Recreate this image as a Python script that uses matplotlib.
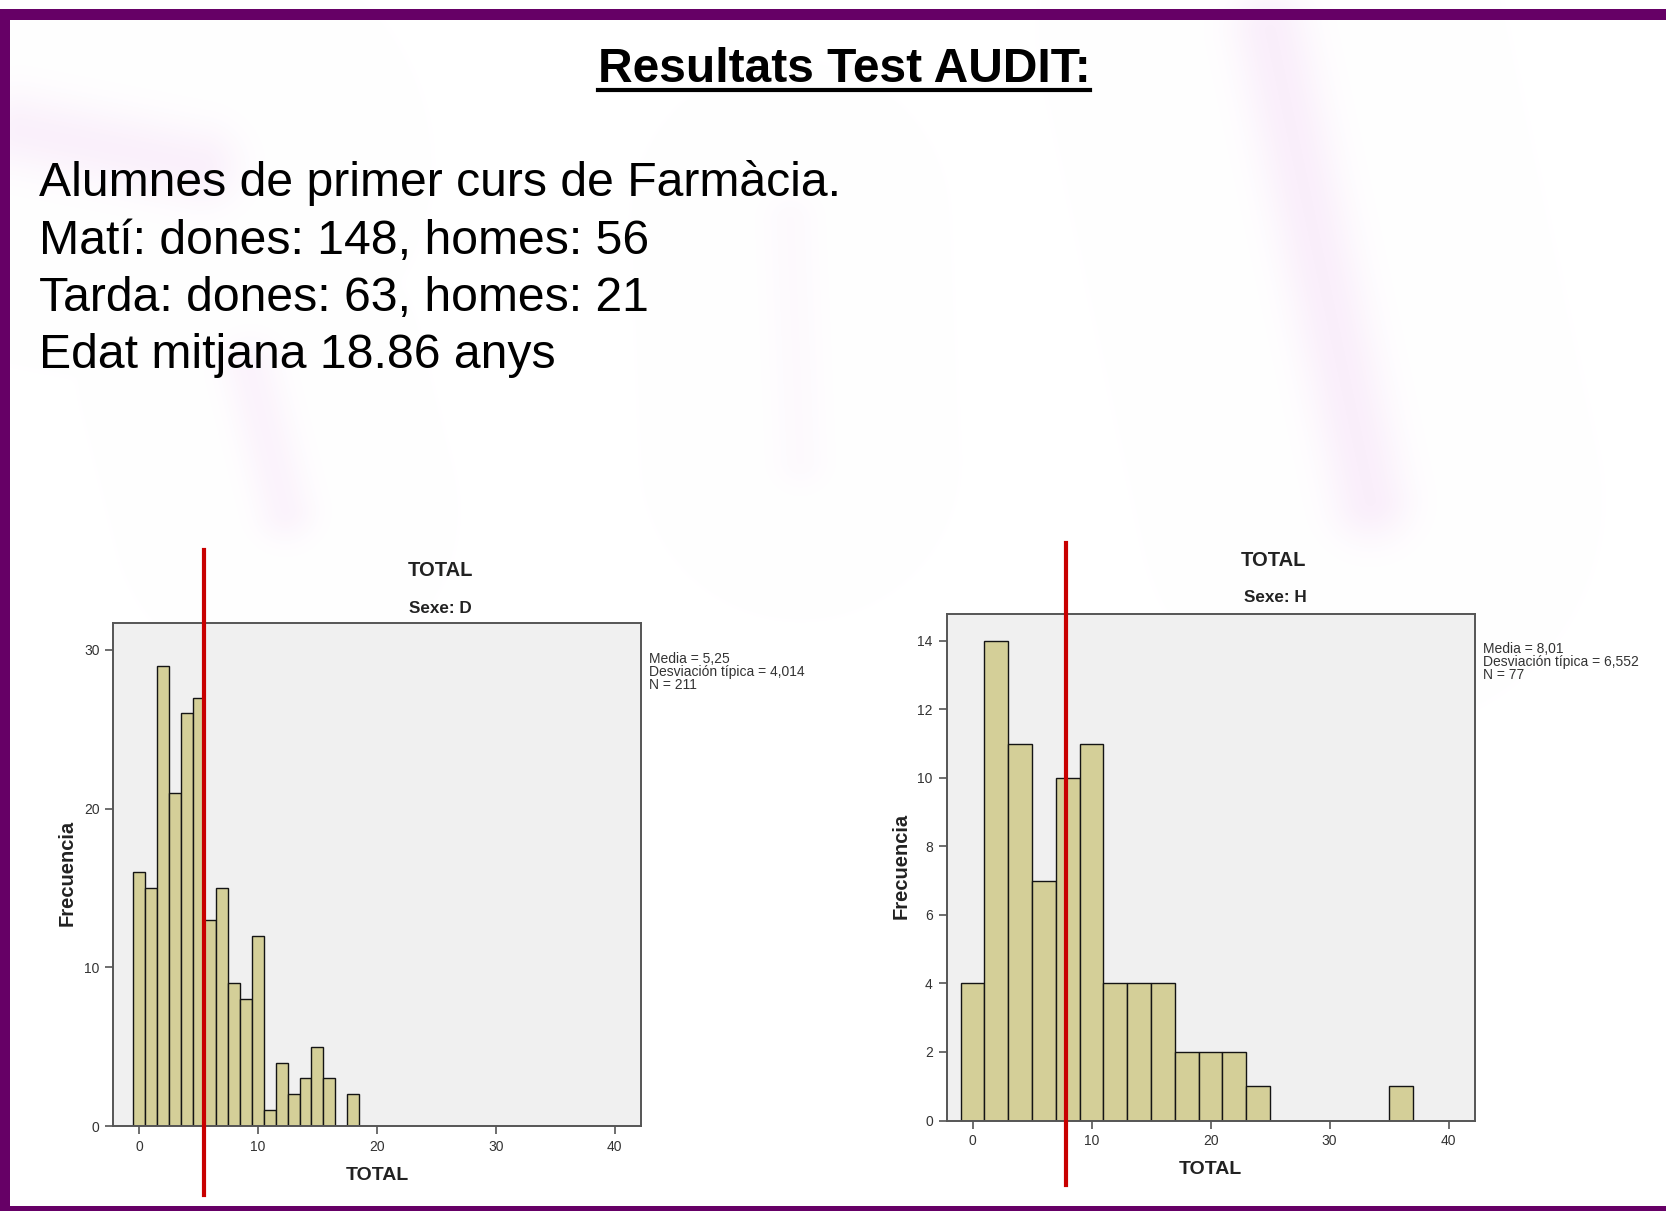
"""Diapositiva: resultats del test AUDIT (histogrames SPSS per sexe)."""

import numpy as np
import matplotlib
matplotlib.use("Agg")
import matplotlib.pyplot as plt
from matplotlib.lines import Line2D

# Dades llegides dels histogrames
total_d = list(range(0, 19))  # amplada de classe 1
freq_d = [16, 15, 29, 21, 26, 27, 13, 15, 9, 8, 12, 1, 4, 2, 3, 5, 3, 0, 2]
total_h = list(range(0, 38, 2))  # amplada de classe 2
freq_h = [4, 14, 11, 7, 10, 11, 4, 4, 4, 2, 2, 2, 1, 0, 0, 0, 0, 0, 1]

stats_d = ["Media = 5,25", "Desviación típica = 4,014", "N = 211"]
stats_h = ["Media = 8,01", "Desviación típica = 6,552", "N = 77"]

linia_d = 5.45  # línia vermella dibuixada a mà
linia_h = 7.85

titol = "Resultats Test AUDIT:"
linies = [
    "Alumnes de primer curs de Farmàcia.",
    "Matí: dones: 148, homes: 56",
    "Tarda: dones: 63, homes: 21",
    "Edat mitjana 18.86 anys",
]

W, H = 1666, 1211
PORPRA = "#660066"
BARRA = "#D4CF98"
FONT = ["Liberation Sans", "DejaVu Sans"]


def fx(px):
    return px / W


def fy(py):
    return 1 - py / H


fig = plt.figure(figsize=(W / 100, H / 100), dpi=100)

# fons amb taques roses suaus
yy, xx = np.mgrid[0:H, 0:W]


def taca(x0, y0, x1, y1, w, s):
    dx, dy = x1 - x0, y1 - y0
    px, py = xx - x0, yy - y0
    t = np.clip((px * dx + py * dy) / (dx * dx + dy * dy), 0, 1)
    d = np.hypot(px - t * dx, py - t * dy)
    return s * np.exp(-(d / w) ** 2)


fons = (taca(20, 130, 200, 165, 40, 0.7) + taca(250, 370, 285, 510, 30, 0.55)
        + taca(1270, 30, 1370, 500, 40, 0.8) + taca(790, 220, 800, 460, 28, 0.25))
fons = np.clip(fons, 0, 1)
img = 1 - fons[..., None] * np.array([0.025, 0.08, 0.02])
ax_bg = fig.add_axes([0, 0, 1, 1])
ax_bg.imshow(img, aspect="auto", extent=[0, 1, 0, 1], interpolation="nearest")
ax_bg.set_axis_off()

# marc porpra
fig.add_artist(plt.Rectangle((0, fy(20)), 1, fy(9) - fy(20), transform=fig.transFigure,
                             color=PORPRA, lw=0))
fig.add_artist(plt.Rectangle((0, 0), fx(10), fy(9), transform=fig.transFigure,
                             color=PORPRA, lw=0))
fig.add_artist(plt.Rectangle((0, 0), 1, fy(1206), transform=fig.transFigure,
                             color=PORPRA, lw=0))

# títol subratllat
t = fig.text(fx(844), fy(82), titol, ha="center", va="baseline", fontsize=34.5,
             fontweight="bold", family=FONT)
fig.canvas.draw()
bb = t.get_window_extent()
fig.add_artist(Line2D([bb.x0 / W, bb.x1 / W], [fy(89.5), fy(89.5)],
                      transform=fig.transFigure, color="black", lw=3))

# text de la diapositiva
for i, lin in enumerate(linies):
    fig.text(fx(39), fy(196.5 + i * 57.2), lin, ha="left", va="baseline",
             fontsize=34.7, family=FONT)


def panell(rect, x, freq, amplada, ylim, yticks, linia, ylin, stats, sexe, pos):
    ax = fig.add_axes(rect)
    ax.bar(x, freq, width=amplada, color=BARRA, edgecolor="#141414", lw=1.0, zorder=2)
    ax.set_facecolor("#F0F0F0")
    ax.set_xlim(-2.17, 42.2)
    ax.set_ylim(*ylim)
    ax.set_xticks([0, 10, 20, 30, 40])
    ax.set_yticks(yticks)
    for s in ax.spines.values():
        s.set_color("#555555")
        s.set_linewidth(1.4)
    ax.tick_params(length=6, width=1.2, color="#555555", labelsize=10,
                   labelcolor="#333333", pad=4)
    for lab in ax.get_xticklabels() + ax.get_yticklabels():
        lab.set_family(FONT)
    ax.axvline(linia, ymin=ylin[0], ymax=ylin[1], color="#C80000", lw=3, clip_on=False,
               zorder=5)
    tx, ty, sx, sy, xl, xly, yl, yly, ax_, ay_ = pos
    fig.text(fx(tx), fy(ty), "TOTAL", ha="center", va="center", fontsize=14.5,
             fontweight="bold", family=FONT, color="#222222")
    fig.text(fx(sx), fy(sy), sexe, ha="center", va="center", fontsize=12.3,
             fontweight="bold", family=FONT, color="#222222")
    fig.text(fx(xl), fy(xly), "TOTAL", ha="center", va="center", fontsize=14,
             fontweight="bold", family=FONT, color="#222222")
    fig.text(fx(yl), fy(yly), "Frecuencia", ha="center", va="center", fontsize=14.5,
             fontweight="bold", family=FONT, color="#222222", rotation=90)
    for k, s in enumerate(stats):
        fig.text(fx(ax_), fy(ay_ + k * 13), s, ha="left", va="center", fontsize=10,
                 family=FONT, color="#333333")
    return ax


panell([fx(113.3), fy(1126), fx(640.7) - fx(113.3), fy(623.3) - fy(1126)],
       total_d, freq_d, 1, (0, 31.68), [0, 10, 20, 30], linia_d, (-0.137, 1.146),
       stats_d, "Sexe: D",
       (440, 570, 440.7, 608.3, 377, 1175, 67, 873, 649, 659))
panell([fx(946.7), fy(1120.5), fx(1474.8) - fx(946.7), fy(614.1) - fy(1120.5)],
       total_h, freq_h, 2, (0, 14.78), list(range(0, 15, 2)), linia_h, (-0.127, 1.140),
       stats_h, "Sexe: H",
       (1273, 561, 1275, 598, 1210, 1169, 901, 866, 1483, 649))

fig.savefig("out.png", dpi=100)
